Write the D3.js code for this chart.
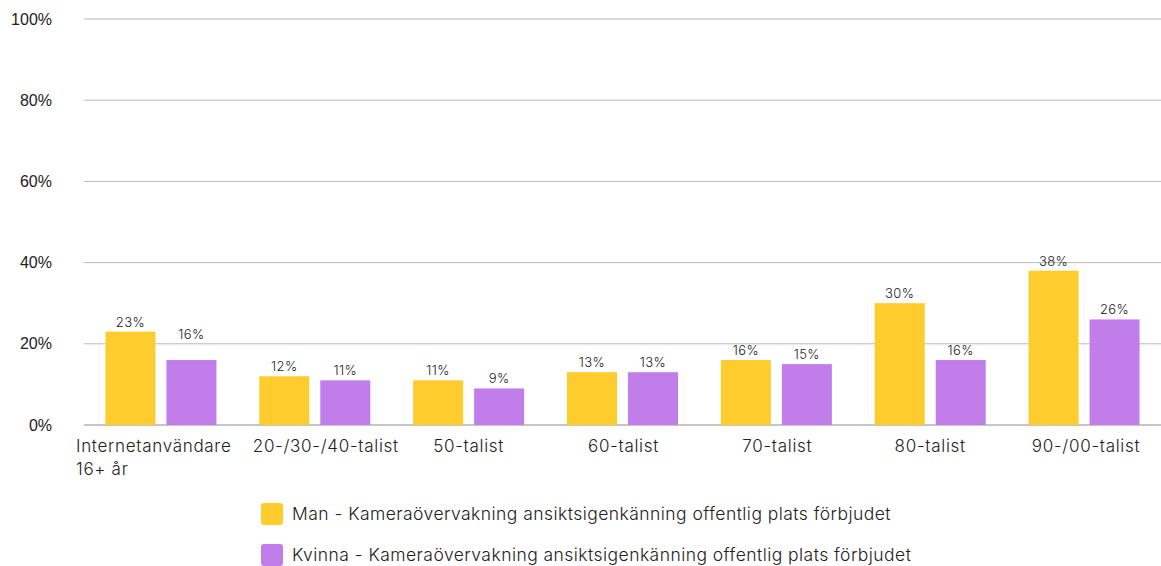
<!DOCTYPE html>
<html><head><meta charset="utf-8">
<script src="https://cdn.jsdelivr.net/npm/d3@7"></script>
<style>
body{margin:0;background:#fff;}
svg{display:block;}
</style></head>
<body>
<svg id="chart" width="1161" height="566"></svg>
<script>
const categories = ["Internetanvändare 16+ år","20-/30-/40-talist","50-talist","60-talist","70-talist","80-talist","90-/00-talist"];
const seriesNames = ["Man - Kameraövervakning ansiktsigenkänning offentlig plats förbjudet","Kvinna - Kameraövervakning ansiktsigenkänning offentlig plats förbjudet"];
const manValues = [23,12,11,13,16,30,38];
const kvinnaValues = [16,11,9,13,15,16,26];
const yTicks = [0,20,40,60,80,100];
const colors = ["#FFCC2E","#C17DEA"];

const svg = d3.select("#chart");
const m = {left:84, right:0, top:19, bottom:141};
const W = 1161, H = 566;
const font = "Inter, 'Open Sans', sans-serif";
const x = d3.scaleBand().domain(categories).range([m.left, W-m.right]).paddingInner(0).paddingOuter(0);
const bw = x.bandwidth();
const inner = 111;
const sub = d3.scaleBand().domain([0,1]).range([(bw-inner)/2, (bw+inner)/2]).paddingInner(11/61).paddingOuter(0);
const y = d3.scaleLinear().domain([0,100]).range([H-m.bottom, m.top]);

// grid
svg.append("g").selectAll("line").data(yTicks).join("line")
  .attr("x1", m.left).attr("x2", W-m.right)
  .attr("y1", d=>y(d)).attr("y2", d=>y(d))
  .attr("stroke", d=> d===0 ? "#8f8f8f" : "#b9b9b9").attr("stroke-width",1);

// y tick labels
svg.append("g").selectAll("text").data(yTicks).join("text")
  .attr("x", 52).attr("y", d=>y(d)).attr("dy","0.35em")
  .attr("text-anchor","end")
  .style("font-family","'Liberation Sans', Arial, sans-serif").style("font-size","16px").attr("fill","#222")
  .text(d=>d+"%");

const data = categories.map((c,i)=>({c, i, v:[manValues[i], kvinnaValues[i]]}));
const g = svg.append("g").selectAll("g").data(data).join("g")
  .attr("transform", d=>`translate(${x(d.c)},0)`);
g.selectAll("rect").data(d=>d.v.map((v,k)=>({v,k,i:d.i}))).join("rect")
  .attr("x", d=>sub(d.k)).attr("width", sub.bandwidth())
  .attr("y", d=>y(d.v)).attr("height", d=>y(0)-y(d.v))
  .attr("fill", d=>colors[d.k]);
g.selectAll("text").data(d=>d.v.map((v,k)=>({v,k,i:d.i}))).join("text")
  .attr("x", d=>sub(d.k)+sub.bandwidth()/2)
  .attr("y", d=>y(d.v)-5-((d.i===0&&d.k===1)?16:0))
  .attr("text-anchor","middle")
  .style("font-family",font).style("font-size","13px").style("font-weight","300")
  .style("letter-spacing","0.4px").attr("fill","#222")
  .text(d=>d.v+"%");

// x labels
const labelOffsets = [0,11,0,1,1,0,2];
const xl = svg.append("g").selectAll("text").data(categories).join("text")
  .attr("y", y(0)+27)
  .style("font-family",font).style("font-size","17px").style("font-weight","300")
  .style("letter-spacing","0.7px").attr("fill","#222");
xl.each(function(d,i){
  const t = d3.select(this);
  if(i===0){
    t.attr("text-anchor","start").attr("x", x(d)-8);
    t.append("tspan").attr("x", x(d)-8).text("Internetanvändare");
    t.append("tspan").attr("x", x(d)-8).attr("dy","1.35em").text("16+ år");
  } else {
    t.attr("text-anchor","middle").attr("x", x(d)+bw/2+labelOffsets[i]).text(d);
  }
});

// legend
const lg = svg.append("g").selectAll("g").data(seriesNames).join("g")
  .attr("transform",(d,i)=>`translate(261,${503+i*41})`);
lg.append("rect").attr("width",22).attr("height",22).attr("rx",3).attr("fill",(d,i)=>colors[i]);
lg.append("text").attr("x",31).attr("y",11).attr("dy","0.35em")
  .style("font-family",font).style("font-size","17.5px").style("font-weight","300")
  .style("letter-spacing","0.45px").attr("fill","#222")
  .text(d=>d);
</script>
</body></html>
